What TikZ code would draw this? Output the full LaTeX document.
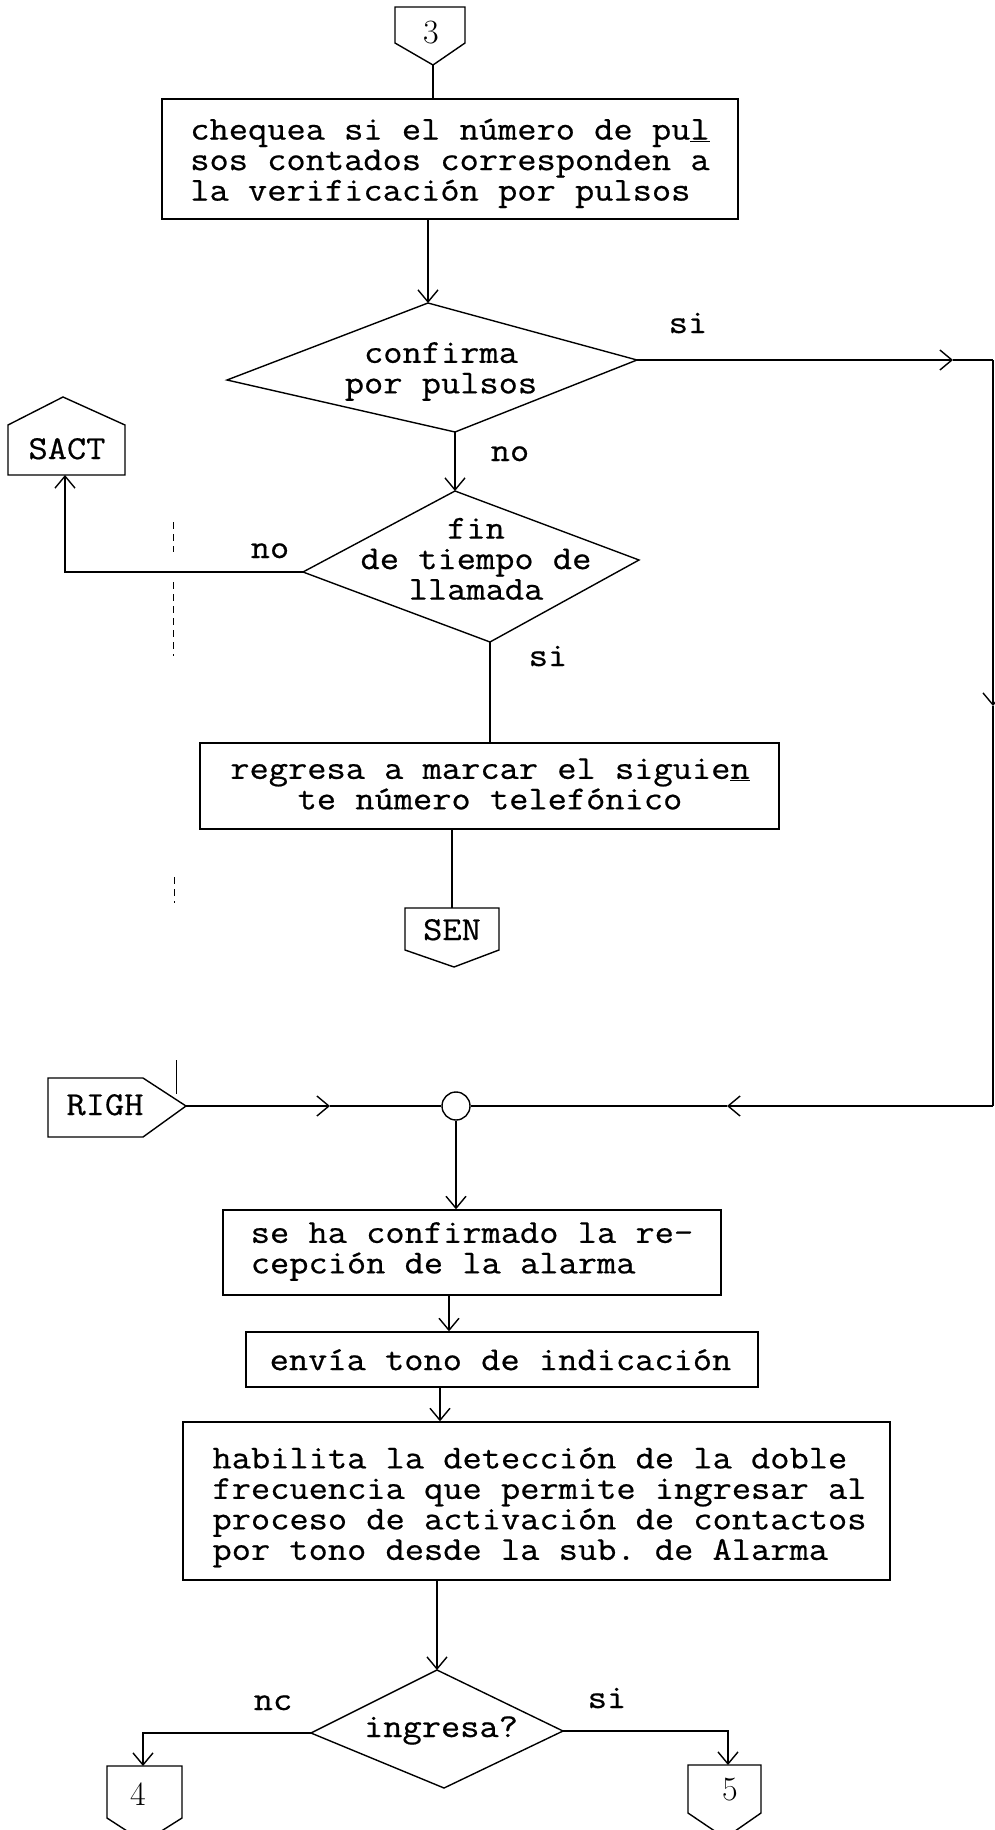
\documentclass[tikz,border=0pt]{standalone}
\usepackage{fontspec}
\setmonofont{Latin Modern Mono}[FakeStretch=1.115,FakeBold=0.6]
\usetikzlibrary{arrows.meta}
\newcommand\tyf{\fontsize{33.5pt}{30.5pt}\selectfont\ttfamily}
\newcommand\hdf{\fontsize{34pt}{34pt}\selectfont\rmfamily}
\begin{document}
\begin{tikzpicture}[x=1pt,y=-1pt,line width=1.4pt,
  box/.style={draw,rectangle,inner sep=0pt},
  txt/.style={font=\tyf,inner sep=0pt,align=left},
  lbl/.style={font=\tyf,inner sep=0pt,anchor=base},
  hd/.style={font=\hdf,inner sep=0pt},
  arr/.style={-{Straight Barb[length=12pt,width=20pt]}},
  shp/.style={draw,line join=miter},
  edge/.style={line width=0.8pt,dash pattern=on 7pt off 5pt}]
\useasboundingbox (0,0) rectangle (995,1830);
\clip (0,0) rectangle (995,1830);

% connector 3
\coordinate (c3p) at (433,65);
\draw[shp] (395,7) -- (465,7) -- (465,43) -- (c3p) -- (395,43) -- cycle;
\node[hd] (c3) at (431,33) {3};

% box 1
\node[box,minimum width=576pt,minimum height=120pt] (b1) at (450,159) {};
\node[txt] (b1x) at (450,164) {\strut chequea si el número de pu\underline{l}\\\strut sos contados corresponden a\\\strut la verificación por pulsos};
\draw (c3p) -- (c3p |- b1.north);

% diamond 1
\coordinate (d1t) at (428,303);
\coordinate (d1r) at (637,360);
\coordinate (d1b) at (455,432);
\coordinate (d1l) at (227,380);
\draw[shp] (d1t) -- (d1r) -- (d1b) -- (d1l) -- cycle;
\node[txt,align=center] (d1x) at (441,372) {\strut confirma\\\strut por pulsos};
\draw[arr] (d1t |- b1.south) -- (d1t);
\node[lbl] (si1) at (688,333) {si};

% diamond 2
\coordinate (d2t) at (455,491);
\coordinate (d2r) at (639,560);
\coordinate (d2b) at (490,642);
\coordinate (d2l) at (303,572);
\draw[shp] (d2t) -- (d2r) -- (d2b) -- (d2l) -- cycle;
\node[txt,align=center] (d2x) at (476,563) {\strut fin\\\strut de tiempo de\\\strut llamada};
\draw[arr] (d1b) -- (d2t);
\node[lbl] (no1) at (510,461) {no};

% SACT
\coordinate (sactb) at (65,475);
\draw[shp] (8,425) -- (63,397) -- (125,425) -- (125,475) -- (8,475) -- cycle;
\node[lbl] (sact) at (67,459) {SACT};
\draw[arr] (d2l) -| (sactb);
\node[lbl] (no2) at (270,558) {no};

% box 2
\node[box,minimum width=579pt,minimum height=86pt] (b2) at (489.5,786) {};
\node[txt,align=center] (b2x) at (490,788) {\strut regresa a marcar el siguie\underline{n}\\\strut te número telefónico};
\draw (d2b) -- (d2b |- b2.north);
\node[lbl] (si2) at (548,666) {si};

% SEN
\coordinate (sent) at (452,908);
\draw[shp] (405,908) -- (499,908) -- (499,950) -- (454,967) -- (405,950) -- cycle;
\node[lbl] (sen) at (452,940) {SEN};
\draw (b2.south -| sent) -- (sent);

% junction circle
\node[draw,circle,minimum size=28pt,inner sep=0pt] (circ) at (456,1106) {};

% right loop
\coordinate (m1) at (953,360);
\coordinate (k1) at (993,360);
\coordinate (m2) at (993,706);
\coordinate (k2) at (993,1106);
\coordinate (m3) at (727,1106);
\draw[arr] (d1r) -- (m1);
\draw (m1) -- (k1);
\draw[arr] (k1) -- (m2);
\draw (m2) -- (k2);
\draw[arr] (k2) -- (m3);
\draw (m3) -- (circ.east);

% RIGH
\coordinate (righp) at (186,1106);
\draw[shp] (48,1078) -- (143,1078) -- (righp) -- (143,1137) -- (48,1137) -- cycle;
\node[lbl] (righ) at (105,1115) {RIGH};
\coordinate (m4) at (330,1106);
\draw[arr] (righp) -- (m4);
\draw (m4) -- (circ.west);

% box 3
\node[box,minimum width=498pt,minimum height=85pt] (b3) at (472,1252.5) {};
\node[txt] (b3x) at (472,1252) {\strut se ha confirmado la re-\\\strut cepción de la alarma};
\draw[arr] (circ.south) -- (circ.south |- b3.north);

% box 4
\node[box,minimum width=512pt,minimum height=55pt] (b4) at (502,1359.5) {};
\node[txt] (b4x) at (500.5,1364) {\strut envía tono de indicación};
\coordinate (x34) at (449,1300);
\draw[arr] (b3.south -| x34) -- (b4.north -| x34);

% box 5
\node[box,minimum width=707pt,minimum height=158pt] (b5) at (536.5,1501) {};
\node[txt] (b5x) at (539.5,1508) {\strut habilita la detección de la doble\\\strut frecuencia que permite ingresar al\\\strut proceso de activación de contactos\\\strut por tono desde la sub. de Alarma};
\coordinate (x45) at (440,1400);
\draw[arr] (b4.south -| x45) -- (b5.north -| x45);

% diamond 3
\coordinate (d3t) at (437,1670);
\coordinate (d3r) at (563,1731);
\coordinate (d3b) at (444,1788);
\coordinate (d3l) at (311,1733);
\draw[shp] (d3t) -- (d3r) -- (d3b) -- (d3l) -- cycle;
\node[lbl] (d3x) at (441,1737) {ingresa?};
\draw[arr] (b5.south -| d3t) -- (d3t);
\node[lbl] (no3) at (273,1710) {nc};
\node[lbl] (si3) at (607,1708) {si};

% connectors 4 and 5
\coordinate (c4t) at (143,1766);
\draw[shp] (107,1766) -- (182,1766) -- (182,1818) -- (144,1842) -- (107,1818) -- cycle;
\node[hd] (c4) at (138,1794) {4};
\coordinate (c5t) at (728,1765);
\draw[shp] (688,1765) -- (761,1765) -- (761,1813) -- (725,1838) -- (688,1813) -- cycle;
\node[hd] (c5) at (730,1790) {5};
\draw[arr] (d3l) -| (c4t);
\draw[arr] (d3r) -| (c5t);

% faint page-edge marks
\draw[edge] (173,522) -- (173,552);
\draw[edge] (173,582) -- (173,656);
\draw[edge] (174,877) -- (174,903);
\draw[line width=0.8pt] (176,1060) -- (176,1094);
\end{tikzpicture}
\end{document}
